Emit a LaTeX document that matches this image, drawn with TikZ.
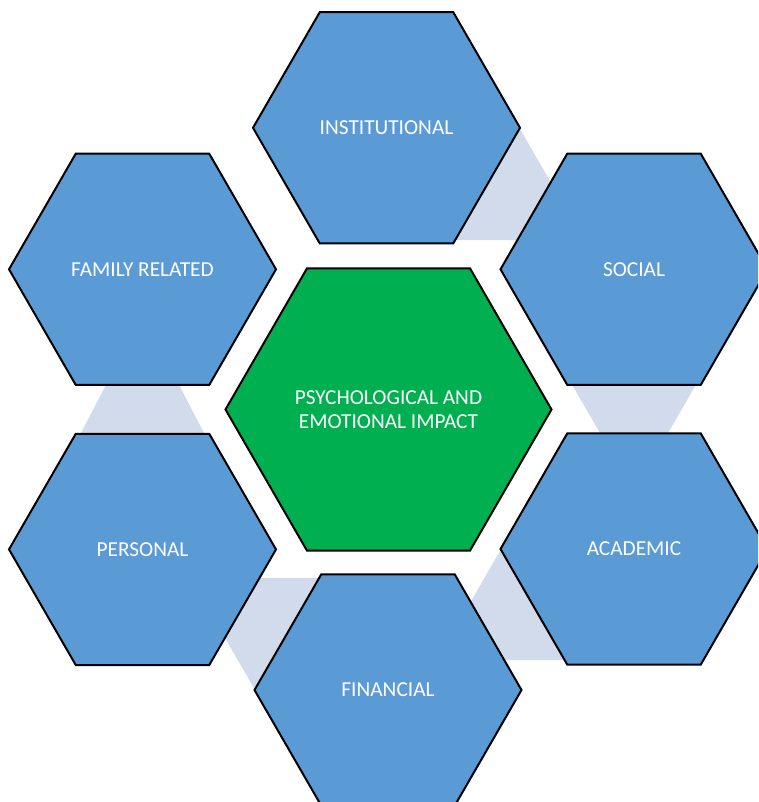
\documentclass[tikz,border=0pt]{standalone}
\usepackage{fontspec}
\setmainfont{Carlito}
\usetikzlibrary{shapes.geometric}
\definecolor{hexblue}{HTML}{5B9BD5}
\definecolor{hexgreen}{HTML}{00B050}
\definecolor{linkblue}{HTML}{D1DBEC}
\tikzset{
  hexa/.style={regular polygon, regular polygon sides=6, draw=black, line width=1.5pt,
    fill=hexblue, text=white, inner sep=0pt, minimum size=200.25pt, align=center,
    font=\fontsize{16}{18}\selectfont},
  hexmid/.style={hexa, fill=hexgreen, minimum size=244.5pt},
  link/.style={fill=linkblue}
}
\begin{document}
\begin{tikzpicture}[x=0.75pt,y=-0.75pt]
\useasboundingbox (0,0) rectangle (758,802);
\clip (0,0) rectangle (758,802);
% light links between neighbouring hexagons
\fill[link] (520,129) -- (584,240) -- (430,240) -- cycle;
\fill[link] (552,350) -- (716,350) -- (664,440) -- (604,440) -- cycle;
\fill[link] (500,551) -- (590,660) -- (437,660) -- cycle;
\fill[link] (254,688) -- (190,578) -- (340,578) -- cycle;
\fill[link] (124.2,350) -- (160.8,350) -- (207.7,440) -- (77.3,440) -- cycle;
% hexagons
\node[hexmid] (impact) at (388.5,409.5) {PSYCHOLOGICAL AND\\EMOTIONAL IMPACT};
\node[hexa] (inst) at (386.5,127.8) {INSTITUTIONAL};
\node[hexa] (family) at (142.5,269.3) {FAMILY RELATED};
\node[hexa] (social) at (634,269.3) {SOCIAL};
\node[hexa] (personal) at (142.5,549.4) {PERSONAL};
\node[hexa] (academic) at (634,549) {ACADEMIC};
\node[hexa] (financial) at (388,690) {FINANCIAL};
\end{tikzpicture}
\end{document}
